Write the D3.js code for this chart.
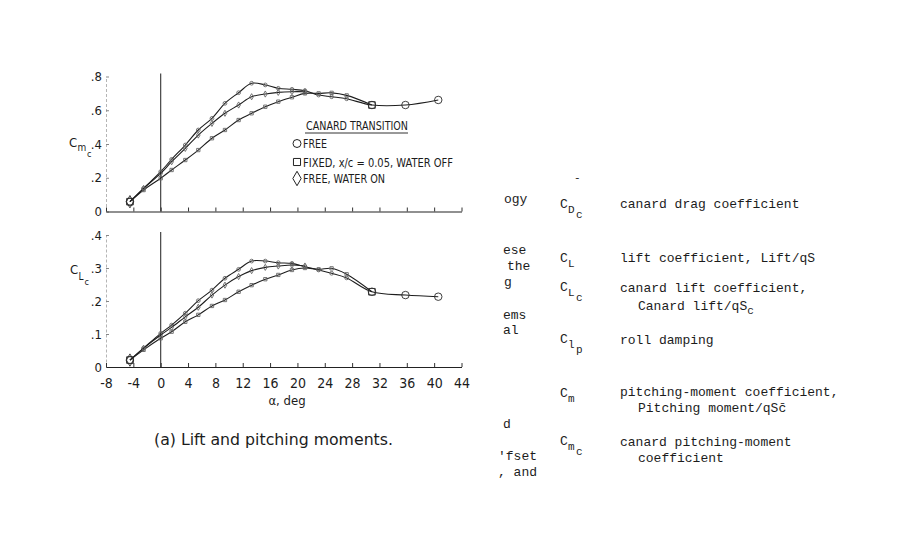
<!DOCTYPE html>
<meta charset="utf-8">
<html lang="en">
<head>
<title>Canard lift and pitching moments</title>
<script src="https://d3js.org/d3.v7.min.js"></script>
<style>
  body { margin: 0; background: #fff; }
  svg text { fill: #1c1c1c; }
  .cond { font-family: "DejaVu Sans Condensed", "Liberation Sans Narrow", "Liberation Sans", sans-serif; }
  .mono { font-family: "Liberation Mono", "DejaVu Sans Mono", monospace; }
</style>
</head>
<body>
<div id="chart"></div>
<script>
// angle of attack, deg (rise to the break, then the post-stall tail)
var alphaRise = [-4.5, -2.5, 0, 1.6, 3.6, 5.5, 7.5, 9.4, 11.4, 13.3, 15.3, 17.2, 19.2, 21.1];
var alphaTail = [23.1, 25.0, 27.2, 30.9, 35.8, 40.6];
var alphaBump = [23.1, 25.0, 27.2, 30.9];

// canard pitching-moment coefficient, Cm_c
var cmFree      = [.058, .137, .236, .309, .394, .483, .552, .641, .704, .760, .750, .730, .724, .716];
var cmFreeTail  = [.690, .680, .668, .631, .631, .661];
var cmFixed     = [.058, .127, .197, .246, .305, .364, .434, .483, .542, .582, .621, .651, .677, .700];
var cmFixedTail = [.700, .703, .688, .631];
var cmWaterOn   = [.058, .137, .226, .295, .374, .453, .522, .582, .631, .680, .696, .706, .710, .710];

// canard lift coefficient, CL_c
var clFree      = [.021, .057, .102, .127, .163, .201, .233, .269, .296, .321, .321, .316, .314, .304];
var clFreeTail  = [.294, .284, .270, .228, .218, .213];
var clFixed     = [.021, .052, .087, .107, .137, .158, .185, .203, .228, .248, .266, .279, .294, .300];
var clFixedTail = [.296, .299, .281, .228];
var clWaterOn   = [.021, .057, .097, .120, .152, .181, .218, .248, .274, .292, .302, .306, .309, .306];

var xTicks = [-8, -4, 0, 4, 8, 12, 16, 20, 24, 28, 32, 36, 40, 44];
var cmTicks = [0, .2, .4, .6, .8];
var clTicks = [0, .1, .2, .3, .4];

var legendLabels = ["FREE", "FIXED, x/c = 0.05, WATER OFF", "FREE, WATER ON"];

var W = 898, H = 539;
var svg = d3.select("#chart").append("svg")
    .attr("width", W).attr("height", H)
    .style("background", "#fff");

var x = d3.scaleLinear().domain([-8, 44]).range([106, 461.5]);
var yTop = d3.scaleLinear().domain([0, .8]).range([211.5, 76.5]);
var yBot = d3.scaleLinear().domain([0, .4]).range([367, 235]);

function pts(a, v) { return a.map(function (d, i) { return {a: d, v: v[i]}; }); }

var series = [
  {sym: d3.symbolCircle,  cm: pts(alphaRise.concat(alphaTail), cmFree.concat(cmFreeTail)),
                          cl: pts(alphaRise.concat(alphaTail), clFree.concat(clFreeTail))},
  {sym: d3.symbolSquare,  cm: pts(alphaRise.concat(alphaBump), cmFixed.concat(cmFixedTail)),
                          cl: pts(alphaRise.concat(alphaBump), clFixed.concat(clFixedTail))},
  {sym: d3.symbolDiamond, cm: pts(alphaRise, cmWaterOn),
                          cl: pts(alphaRise, clWaterOn)}
];

// the scan shows clear symbols only at the first point and past the break
function markSize(d) { return (d.a < -4 || d.a > 30) ? 44 : 11; }

function yFmt(d) { return d === 0 ? "0" : String(d).replace("0.", "."); }

function panel(y, ticks, key, labelled) {
  var g = svg.append("g");

  // faint left axis with tick labels
  var ya = g.append("g")
      .attr("transform", "translate(" + x(-8) + ",0)")
      .call(d3.axisLeft(y).tickValues(ticks).tickFormat(yFmt)
            .tickSizeInner(-3).tickSizeOuter(0).tickPadding(4));
  ya.select(".domain").attr("stroke", "#b5b5b5").attr("stroke-dasharray", "3,2");
  ya.selectAll(".tick line").attr("stroke", "#888");
  ya.selectAll("text").attr("class", "cond").style("font-size", "13px").attr("fill", "#1c1c1c");

  // zero line with upward ticks
  var xa = g.append("g")
      .attr("transform", "translate(0," + y(0) + ")")
      .call(d3.axisBottom(x).tickValues(xTicks)
            .tickFormat(labelled ? function (d) { return String(d); } : "")
            .tickSizeInner(-4).tickSizeOuter(0).tickPadding(11));
  xa.select(".domain").attr("stroke", "#222").attr("stroke-width", 1.2);
  xa.selectAll(".tick line").attr("stroke", "#333");
  xa.selectAll("text").attr("class", "cond").style("font-size", "14px").attr("fill", "#1c1c1c");

  // alpha = 0 reference line
  g.append("line")
      .attr("x1", x(0)).attr("x2", x(0))
      .attr("y1", y(ticks[ticks.length - 1]) - 3).attr("y2", y(0))
      .attr("stroke", "#333").attr("stroke-width", 1.1);

  var line = d3.line()
      .x(function (d) { return x(d.a); })
      .y(function (d) { return y(d.v); })
      .curve(d3.curveCatmullRom.alpha(0.5));

  series.forEach(function (s) {
    g.append("path")
        .attr("d", line(s[key]))
        .attr("fill", "none").attr("stroke", "#1e1e1e").attr("stroke-width", 1.1);
    g.selectAll(null).data(s[key]).enter().append("path")
        .attr("transform", function (d) { return "translate(" + x(d.a) + "," + y(d.v) + ")"; })
        .attr("d", function (d) { return d3.symbol().type(s.sym).size(markSize(d))(); })
        .attr("fill", "none")
        .attr("stroke", function (d) { return markSize(d) > 20 ? "#2a2a2a" : "#666"; })
        .attr("stroke-width", 0.9);
  });
  return g;
}

panel(yTop, cmTicks, "cm", false);
panel(yBot, clTicks, "cl", true);

// axis titles
var t1 = svg.append("text").attr("class", "cond").attr("x", 69).attr("y", 146.5).style("font-size", "13px");
t1.append("tspan").text("C");
t1.append("tspan").attr("x", 77.5).attr("y", 151).style("font-size", "10px").text("m");
t1.append("tspan").attr("x", 87).attr("y", 157).style("font-size", "9px").text("c");

var t2 = svg.append("text").attr("class", "cond").attr("x", 70).attr("y", 274).style("font-size", "13px");
t2.append("tspan").text("C");
t2.append("tspan").attr("x", 78.5).attr("y", 280).style("font-size", "10px").text("L");
t2.append("tspan").attr("x", 84.5).attr("y", 285).style("font-size", "9px").text("c");

svg.append("text").attr("class", "cond")
    .attr("x", 287).attr("y", 405).attr("text-anchor", "middle")
    .style("font-size", "13px").text("\u03b1, deg");

svg.append("text").attr("class", "cond")
    .attr("x", 154).attr("y", 445)
    .attr("textLength", 239).attr("lengthAdjust", "spacingAndGlyphs")
    .style("font-size", "15px").text("(a) Lift and pitching moments.");

// legend
var lg = svg.append("g");
lg.append("text").attr("class", "cond").attr("x", 306).attr("y", 130)
    .attr("textLength", 102).attr("lengthAdjust", "spacingAndGlyphs")
    .style("font-size", "12px").text("CANARD TRANSITION");
lg.append("line").attr("x1", 305).attr("x2", 408).attr("y1", 133).attr("y2", 133)
    .attr("stroke", "#333").attr("stroke-width", 1);
var legY = [143.5, 162, 178.5];
var legW = [24, 150, 82];
series.forEach(function (s, i) {
  lg.append("path")
      .attr("transform", "translate(297," + legY[i] + ")")
      .attr("d", d3.symbol().type(s.sym).size(i === 2 ? 60 : 50))
      .attr("fill", "none").attr("stroke", "#222").attr("stroke-width", 1);
  lg.append("text").attr("class", "cond").attr("x", 303).attr("y", legY[i] + 4.5)
      .attr("textLength", legW[i]).attr("lengthAdjust", "spacingAndGlyphs")
      .style("font-size", "12px").text(legendLabels[i]);
});

// glossary column from the facing page
var gl = svg.append("g").attr("class", "mono").style("font-size", "13px");

var margin = [["ogy", 504, 203], ["ese", 503, 254], ["the", 507, 270], ["g", 504, 286],
              ["ems", 503, 319], ["al", 503, 334], ["d", 503, 428], ["'fset", 498, 460], [", and", 498, 476]];
margin.forEach(function (m) {
  gl.append("text").attr("x", m[1]).attr("y", m[2]).text(m[0]);
});
gl.append("text").attr("x", 574).attr("y", 181).style("font-size", "11px").text("-");

var defs = [
  ["canard drag coefficient", 620, 208],
  ["lift coefficient, Lift/qS", 620, 262],
  ["canard lift coefficient,", 620, 292],
  ["roll damping", 620, 344],
  ["pitching-moment coefficient,", 620, 396],
  ["canard pitching-moment", 620, 446],
  ["coefficient", 638, 462]
];
defs.forEach(function (d) {
  gl.append("text").attr("x", d[1]).attr("y", d[2]).text(d[0]);
});
var l2 = gl.append("text").attr("x", 638).attr("y", 310);
l2.append("tspan").text("Canard lift/qS");
l2.append("tspan").attr("dy", 4).style("font-size", "11px").text("c");
gl.append("text").attr("x", 638).attr("y", 412).text("Pitching moment/qSc\u0304");

// symbols: [base, sub, subsub, baseline]
var symbolsCol = [["C", "D", "c", 208], ["C", "L", "", 262], ["C", "L", "c", 291],
                  ["C", "l", "p", 343], ["C", "m", "", 397], ["C", "m", "c", 445]];
symbolsCol.forEach(function (s) {
  var t = gl.append("text").attr("x", 560).attr("y", s[3]);
  t.append("tspan").text(s[0]);
  t.append("tspan").attr("x", 568).attr("y", s[3] + 5).style("font-size", "11px").text(s[1]);
  if (s[2]) t.append("tspan").attr("x", 576).attr("y", s[3] + 10).style("font-size", "11px").text(s[2]);
});
</script>
</body>
</html>
